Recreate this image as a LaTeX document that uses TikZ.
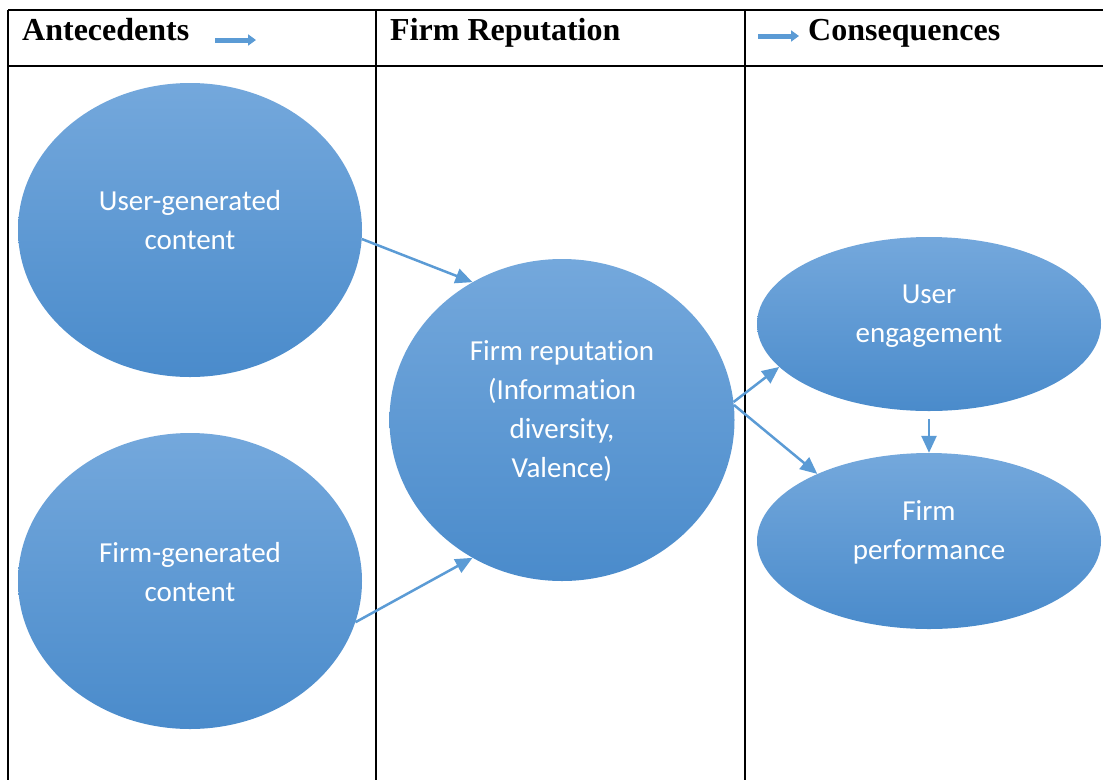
\documentclass[tikz,border=0pt]{standalone}
\usepackage{fontspec}
\setmainfont{Liberation Serif}
\newfontfamily\carlito[Ligatures=NoCommon]{Carlito}
\usetikzlibrary{shapes.geometric,arrows.meta}
\definecolor{bluetop}{HTML}{74A8DC}
\definecolor{bluebot}{HTML}{4A8BCB}
\definecolor{arrowblue}{HTML}{5B9BD5}
\tikzset{
  oval/.style={ellipse, inner sep=0pt, top color=bluetop, bottom color=bluebot, draw=none},
  ovaltext/.style={text=white, align=center, font=\carlito\fontsize{29}{39}\selectfont, inner sep=0pt},
  conn/.style={draw=arrowblue, line width=2.5pt, -{Triangle[length=17pt,width=15pt]}},
  hdrarrow/.style={draw=arrowblue, line width=5pt, -{Triangle[length=8pt,width=11pt]}},
  rule/.style={line width=2.4pt, black},
  hdr/.style={font=\bfseries\fontsize{32}{36}\selectfont, anchor=base west, inner sep=0pt}
}
\begin{document}
\begin{tikzpicture}[x=1pt,y=-1pt]
\useasboundingbox (0,0) rectangle (1103,780);
% table
\draw[rule] (8,10) -- (1103,10);
\draw[rule] (8,66) -- (1103,66);
\draw[rule] (8,10) -- (8,780);
\draw[rule] (376,10) -- (376,780);
\draw[rule] (745,10) -- (745,780);
% headers
\node[hdr] (h1) at (22,40) {Antecedents};
\node[hdr] (h2) at (390,40) {Firm Reputation};
\node[hdr] (h3) at (808,40) {Consequences};
\coordinate (a1s) at (215,40);
\coordinate (a1e) at (256,40);
\coordinate (a2s) at (758,36);
\coordinate (a2e) at (799,36);
\draw[hdrarrow] (a1s) -- (a1e);
\draw[hdrarrow] (a2s) -- (a2e);
% ovals
\node[oval, minimum width=344pt, minimum height=294pt] (ugc) at (190,230) {};
\node[oval, minimum width=344pt, minimum height=296pt] (fgc) at (190,581) {};
\node[oval, minimum width=345pt, minimum height=322pt] (fr) at (562,420) {};
\node[oval, minimum width=344pt, minimum height=174pt] (ue) at (929,324) {};
\node[oval, minimum width=344pt, minimum height=176pt] (fp) at (929,541) {};
% texts
\node[ovaltext] (ugct) at ([yshift=10pt]ugc.center) {User-generated\\content};
\node[ovaltext] (fgct) at ([yshift=9pt]fgc.center) {Firm-generated\\content};
\node[ovaltext] (frt) at ([yshift=9pt]fr.center) {Firm reputation\\(Information\\diversity,\\Valence)};
\node[ovaltext] (uet) at ([yshift=8pt]ue.center) {User\\engagement};
\node[ovaltext] (fpt) at ([yshift=9pt]fp.center) {Firm\\performance};
% connectors
\draw[conn] (ugc.-3) -- (fr.123);
\draw[conn] (fgc.-14) -- (fr.237);
\draw[conn] (fr.6) -- (ue.196);
\draw[conn] (fr.5) -- (fp.149);
\draw[conn, shorten <=8pt] (ue.south) -- (fp.north);
\end{tikzpicture}
\end{document}
